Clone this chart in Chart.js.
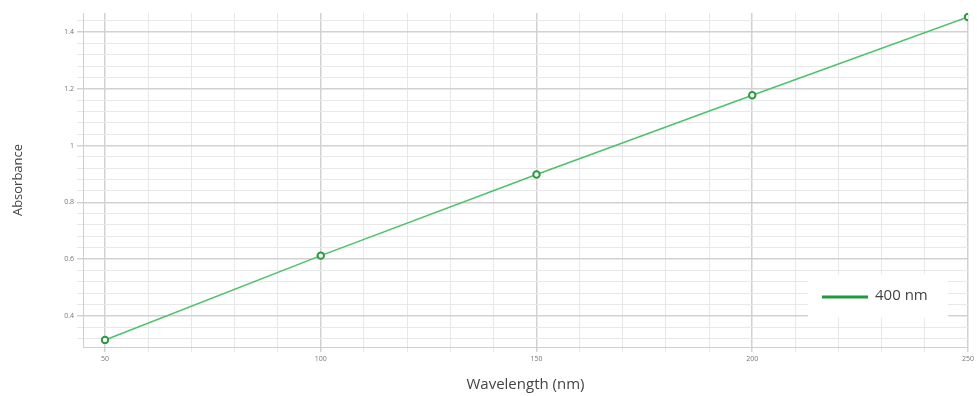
<!DOCTYPE html>
<html>
<head>
<meta charset="utf-8">
<script src="https://cdn.jsdelivr.net/npm/chart.js@4/dist/chart.umd.min.js"></script>
<style>
  html, body { margin: 0; padding: 0; background: #fff; }
  #wrap { position: relative; width: 977px; height: 396px; }
</style>
</head>
<body>
<div id="wrap"><canvas id="absChart" width="977" height="396"></canvas></div>
<script>
const wavelengths = [50, 100, 150, 200, 250];
const absorbance = [0.315, 0.612, 0.898, 1.177, 1.453];
const seriesLabel = "400 nm";
const xLabelTicks = [50, 100, 150, 200, 250];
const yLabelTicks = [0.4, 0.6, 0.8, 1, 1.2, 1.4];

function isLabelled(list, v) {
  return list.some(t => Math.abs(t - v) < 1e-6);
}

function minorTicks(from, to, step) {
  const out = [];
  const n = Math.round((to - from) / step);
  for (let i = 0; i <= n; i++) out.push({ value: +(from + i * step).toFixed(4) });
  return out;
}

// legend box drawn inside the plot, bottom right
const insideLegend = {
  id: "insideLegend",
  afterDraw(chart) {
    const ctx = chart.ctx;
    const ds = chart.data.datasets[0];
    const x = 808, y = 274, w = 140, h = 44;
    ctx.save();
    ctx.fillStyle = "#ffffff";
    ctx.fillRect(x, y, w, h);
    ctx.strokeStyle = "#1f9a3d";
    ctx.lineWidth = 3;
    ctx.beginPath();
    ctx.moveTo(x + 14, y + 23);
    ctx.lineTo(x + 60, y + 23);
    ctx.stroke();
    ctx.fillStyle = "#444";
    ctx.font = "15px 'Open Sans'";
    ctx.textBaseline = "middle";
    ctx.fillText(ds.label, x + 67, y + 22);
    ctx.restore();
  }
};

function LineChartAbs(canvasId) {
  const config = {
    type: "line",
    data: {
      datasets: [
        {
          label: seriesLabel,
          data: wavelengths.map((w, i) => ({ x: w, y: absorbance[i] })),
          borderColor: "#4cc36b",
          borderWidth: 1.6,
          pointRadius: 3.2,
          pointBorderWidth: 2,
          pointBorderColor: "#2a9a40",
          pointBackgroundColor: "#ffffff",
          fill: false,
          tension: 0,
        },
      ],
    },
    options: {
      responsive: false,
      animation: false,
      layout: { padding: { top: 13, right: 2, left: 0, bottom: 0 } },
      plugins: {
        legend: { display: false },
        tooltip: { enabled: false },
      },
      scales: {
        x: {
          type: "linear",
          min: 44.9,
          max: 250,
          afterBuildTicks: scale => { scale.ticks = minorTicks(50, 250, 10); },
          afterFit: scale => { scale.height = 49; },
          grid: {
            color: c => isLabelled(xLabelTicks, c.tick.value) ? "#d2d2d2" : "#e8e8e8",
            lineWidth: c => isLabelled(xLabelTicks, c.tick.value) ? 1.5 : 1,
            tickLength: 5,
          },
          border: { color: "#cfcfcf" },
          ticks: {
            autoSkip: false,
            maxRotation: 0,
            padding: 3,
            color: "#777",
            font: { size: 7, family: "'Open Sans'" },
            callback: v => isLabelled(xLabelTicks, v) ? String(v) : "",
          },
          title: {
            display: true,
            text: "Wavelength (nm)",
            color: "#444",
            font: { size: 15, family: "'Open Sans'" },
            padding: { top: 0, bottom: 2 },
          },
        },
        y: {
          min: 0.29,
          max: 1.467,
          afterBuildTicks: scale => { scale.ticks = minorTicks(0.32, 1.44, 0.04); },
          afterFit: scale => { scale.width = 83; },
          grid: {
            color: c => isLabelled(yLabelTicks, c.tick.value) ? "#d2d2d2" : "#e8e8e8",
            lineWidth: c => isLabelled(yLabelTicks, c.tick.value) ? 1.5 : 1,
            tickLength: 6,
          },
          border: { color: "#cfcfcf" },
          ticks: {
            autoSkip: false,
            padding: 3,
            color: "#777",
            font: { size: 7, family: "'Open Sans'" },
            callback: v => isLabelled(yLabelTicks, v) ? String(+v.toFixed(1)) : "",
          },
          title: {
            display: true,
            text: "Absorbance",
            color: "#444",
            font: { size: 13, family: "'Open Sans'" },
            padding: { top: 10, bottom: 0 },
          },
        },
      },
    },
    plugins: [insideLegend],
  };

  const canvas = document.getElementById(canvasId);
  const ctx = canvas.getContext("2d");
  return new Chart(ctx, config);
}

LineChartAbs("absChart");
</script>
</body>
</html>
